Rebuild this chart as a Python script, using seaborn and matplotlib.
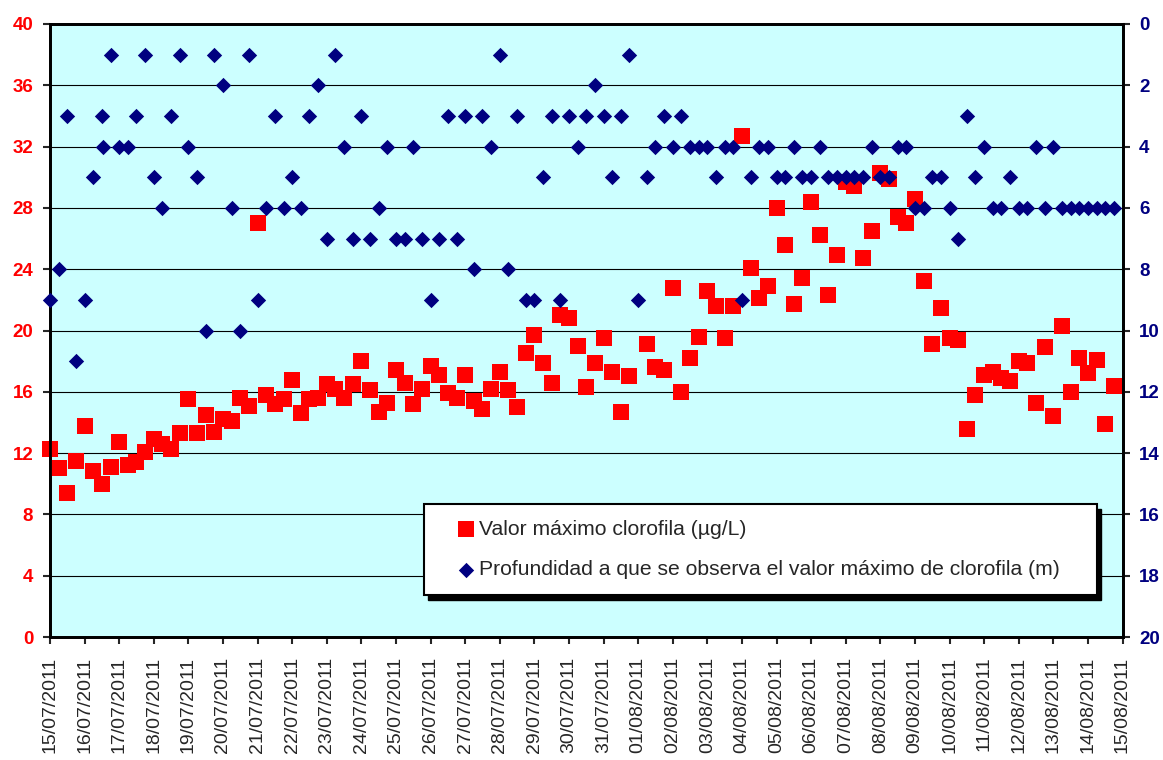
import numpy as np
import pandas as pd
import seaborn as sns
import matplotlib.pyplot as plt
from matplotlib.patches import Rectangle

# maximum chlorophyll (ug/L), one value every 6 h from 15/07/2011 00:00
chl = [12.3, 11.0, 9.4, 11.5, 13.8, 10.8, 10.0, 11.1, 12.7, 11.2,
       11.4, 12.1, 12.9, 12.6, 12.3, 13.3, 15.5, 13.3, 14.5, 13.4,
       14.2, 14.1, 15.6, 15.1, 27.0, 15.8, 15.2, 15.5, 16.8, 14.6,
       15.5, 15.6, 16.5, 16.2, 15.6, 16.5, 18.0, 16.1, 14.7, 15.3,
       17.4, 16.6, 15.2, 16.2, 17.7, 17.1, 15.9, 15.6, 17.1, 15.4,
       14.9, 16.2, 17.3, 16.1, 15.0, 18.5, 19.7, 17.9, 16.6, 21.0,
       20.8, 19.0, 16.3, 17.9, 19.5, 17.3, 14.7, 17.0, np.nan, 19.1,
       17.6, 17.4, 22.8, 16.0, 18.2, 19.6, 22.6, 21.6, 19.5, 21.6,
       32.7, 24.1, 22.1, 22.9, 28.0, 25.6, 21.7, 23.4, 28.4, 26.2,
       22.3, 24.9, 29.7, 29.4, 24.7, 26.5, 30.3, 29.9, 27.4, 27.0,
       28.6, 23.2, 19.1, 21.5, 19.5, 19.4, 13.6, 15.8, 17.1, 17.3,
       16.9, 16.7, 18.0, 17.9, 15.3, 18.9, 14.4, 20.3, 16.0, 18.2,
       17.2, 18.1, 13.9, 16.4]

# depth (m) of the chlorophyll maximum, same times
depth = [9, 8, 3, 11, 9, 5, 3, 1, 4, 4,
         3, 1, 5, 6, 3, 1, 4, 5, 10, 1,
         2, 6, 10, 1, 9, 6, 3, 6, 5, 6,
         3, 2, 7, 1, 4, 7, 3, 7, 6, 4,
         7, 7, 4, 7, 9, 7, 3, 7, 3, 8,
         3, 4, 1, 8, 3, 9, 9, 5, 3, 9,
         3, 4, 3, 2, 3, 5, 3, 1, 9, 5,
         4, 3, 4, 3, 4, 4, 4, 5, 4, 4,
         9, 5, 4, 4, 5, 5, 4, 5, 5, 4,
         5, 5, 5, 5, 5, 4, 5, 5, 4, 4,
         6, 6, 5, 5, 6, 7, 3, 5, 4, 6,
         6, 5, 6, 6, 4, 6, 4, 6, 6, 6,
         6, 6, 6, 6]

# one extra depth reading
extra_time = "2011-07-16 13:00"
extra_depth = 4

label_chl = "Valor máximo clorofila (µg/L)"
label_depth = "Profundidad a que se observa el valor máximo de clorofila (m)"

times = pd.date_range("2011-07-15 00:00", periods=len(chl), freq="6h")
days = pd.date_range("2011-07-15", "2011-08-15", freq="D")

df_chl = pd.DataFrame({"fecha": times, "clorofila": chl})
df_depth = pd.DataFrame({"fecha": list(times) + [pd.Timestamp(extra_time)],
                         "profundidad": depth + [extra_depth]})

sns.set_style("ticks")
plt.rcParams["font.family"] = ["Liberation Sans", "DejaVu Sans"]

W, H = 1163, 760
fig = plt.figure(figsize=(W / 100, H / 100), dpi=100)
ax = fig.add_axes([50 / W, 1 - 637 / H, 1072.5 / W, 613 / H])
ax.set_facecolor("#CCFFFF")
ax.set_axisbelow(True)
ax.yaxis.grid(True, color="black", lw=0.8)

sns.scatterplot(data=df_chl, x="fecha", y="clorofila", ax=ax, marker="s", s=121,
                color="#FF0000", linewidth=0, clip_on=False, zorder=3, label=label_chl)
ax.set_ylim(0, 40)
ax.set_yticks(range(0, 41, 4))
ax.set_xlim(days[0], days[-1])
ax.set_xticks(days)
ax.set_xticklabels([d.strftime("%d/%m/%Y") for d in days], rotation=90, fontsize=14)
ax.set_xlabel("")
ax.set_ylabel("")
ax.tick_params(axis="x", length=5, width=1.5, pad=9)
ax.tick_params(axis="y", length=5, width=1.5, pad=7, labelcolor="#FF0000", labelsize=13.5)
for t in ax.get_yticklabels():
    t.set_fontweight("bold")

ax2 = ax.twinx()
sns.scatterplot(data=df_depth, x="fecha", y="profundidad", ax=ax2, marker="D", s=61,
                color="#000080", linewidth=0, clip_on=False, zorder=4, label=label_depth)
ax2.set_ylim(20, 0)
ax2.set_yticks(range(0, 21, 2))
ax2.set_ylabel("")
ax2.tick_params(axis="y", length=5, width=1.5, pad=7, labelcolor="#000080", labelsize=13.5)
for t in ax2.get_yticklabels():
    t.set_fontweight("bold")

for a in (ax, ax2):
    for sp in a.spines.values():
        sp.set_visible(True)
        sp.set_color("black")
        sp.set_linewidth(2)
    if a.get_legend() is not None:
        a.get_legend().remove()

# legend box with a hard black shadow
fig.add_artist(Rectangle((428 / W, 1 - 600 / H), 673 / W, 91 / H, transform=fig.transFigure,
                         facecolor="black", edgecolor="black", zorder=2))
fig.add_artist(Rectangle((424 / W, 1 - 595 / H), 673 / W, 91 / H, transform=fig.transFigure,
                         facecolor="white", edgecolor="black", lw=1.5, zorder=3))

h1, l1 = ax.get_legend_handles_labels()
h2, l2 = ax2.get_legend_handles_labels()
fig.legend(h1 + h2, l1 + l2, loc="center left", bbox_to_anchor=(455.5 / W, 1 - 549.5 / H),
           frameon=False, fontsize=15.2, handlelength=1.0, handletextpad=0.12,
           borderpad=0, borderaxespad=0, labelspacing=1.0, scatterpoints=1)

fig.savefig("out.png", dpi=100)
